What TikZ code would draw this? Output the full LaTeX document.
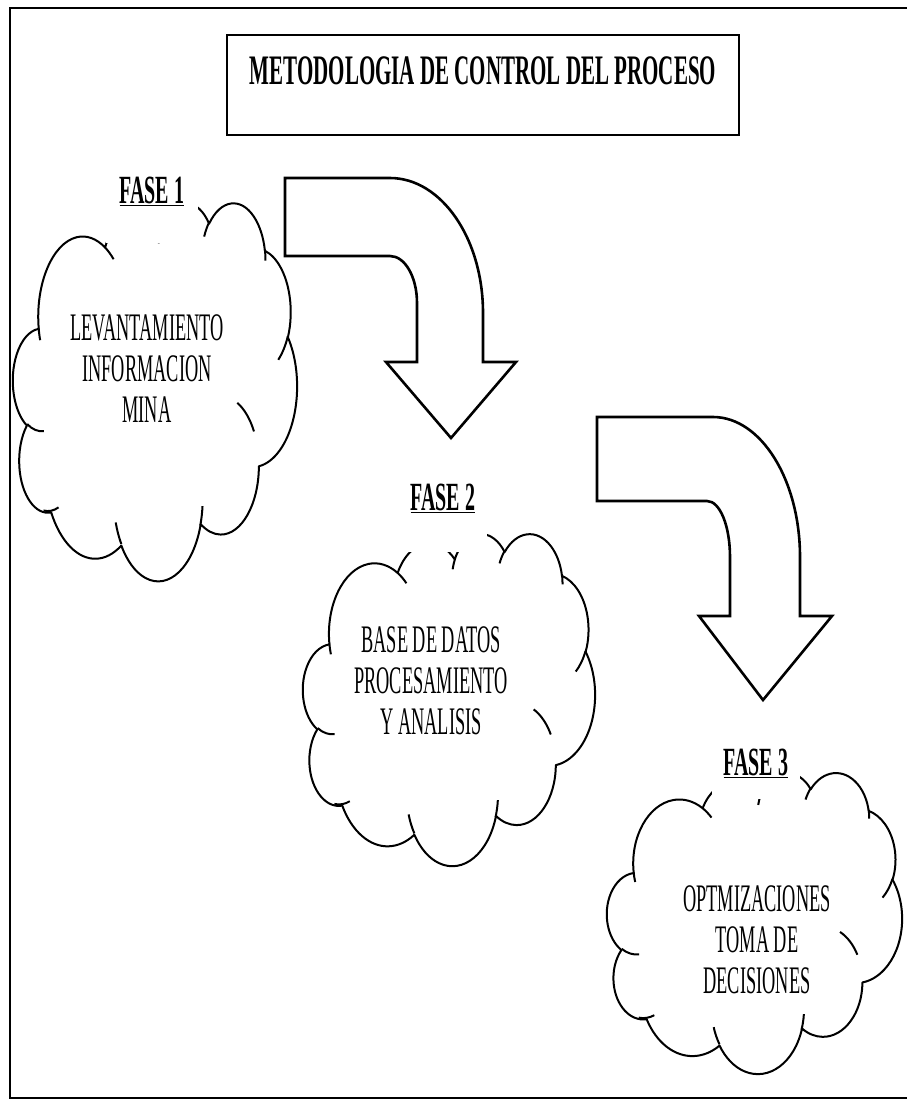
\documentclass[tikz,border=0pt]{standalone}
\usepackage{fontspec}
\usepackage{tikz}
\usetikzlibrary{positioning}
\newfontfamily\titlefont[FakeStretch=0.5]{Liberation Serif}
\newfontfamily\cloudfont[FakeStretch=0.47]{Liberation Serif}
% arco de elipse: radio x, radio y, angulo inicial, barrido (angulos visuales)
\newcommand\arco[4]{arc[x radius=#1, y radius=#2,
    start angle={atan2(#1*sin(#3),#2*cos(#3))},
    delta angle={mod(atan2(#1*sin(#3+#4),#2*cos(#3+#4))-atan2(#1*sin(#3),#2*cos(#3))+720,360)}]}
\tikzset{
    borde/.style={line width=2pt, line join=round},
    pics/nube/.style={code={
        \draw[borde] (3.9,14.37) \arco{6.753}{9.19}{-190.488}{123.781} \arco{5.333}{7.267}{-144.102}{89.945}
            \arco{4.365}{5.945}{-145.808}{99.723} \arco{4.857}{6.595}{-130.986}{117.242}
            \arco{5.333}{7.273}{-78.709}{109.027} \arco{6.775}{9.22}{-46.267}{130.269}
            \arco{5.785}{7.867}{0.625}{114.033} \arco{6.752}{9.215}{22.452}{115.173}
            \arco{7.72}{10.543}{66.243}{75.711} \arco{4.36}{5.918}{-274.942}{146.736}
            \arco{4.345}{5.945}{-246.829}{152.519} -- cycle;
        % arcos interiores
        \draw[borde] (4.693,26.177) \arco{4.345}{5.945}{86.742}{26.43}
            (6.928,34.899) \arco{4.36}{5.918}{73.604}{22.862}
            (16.478,39.09) \arco{6.752}{9.215}{137.624}{20.08}
            (28.827,34.751) \arco{6.752}{9.215}{6.453}{18.677}
            (34.129,22.954) \arco{5.785}{7.867}{-70.292}{33.348}
            (41.798,15.354) \arco{5.333}{7.273}{30.318}{27.752}
            (38.324,5.426) \arco{4.857}{6.595}{-13.744}{14.859}
            (29.078,3.952) \arco{4.857}{6.595}{-149.181}{18.193}
            (22.141,4.72) \arco{4.365}{5.945}{-163.494}{17.693}
            (14,5.192) \arco{6.753}{9.19}{-66.707}{12.319}
            (4.127,15.789) \arco{6.753}{9.19}{157.654}{11.858};
    }}
}

\begin{document}
\begin{tikzpicture}[x=1pt,y=-1pt,
    textonube/.style={align=center, inner sep=0pt, font={\cloudfont\fontsize{39}{41}\selectfont}},
    fase/.style={anchor=base, fill=white, inner ysep=0pt, font={\titlefont\bfseries\fontsize{40}{40}\selectfont}},
    flecha/.style={line width=2.6pt}]
    \useasboundingbox (0,0) rectangle (907,1104);
    \clip (0,0) rectangle (907,1104);
    \draw[line width=1.5pt] (10,8) rectangle (930,1098); % marco
    % titulo
    \node[draw, line width=1.8pt, minimum width=512pt, minimum height=100pt] (titulo) at (483,85) {};
    \node[inner sep=0pt, font={\titlefont\bfseries\fontsize{42}{42}\selectfont}, below=22pt of titulo.north] (textotitulo) {METODOLOGIA DE CONTROL DEL PROCESO};
    % nubes
    \begin{scope}[shift={(13,202)}, x=6.574pt, y=-8.75pt]
        \pic {nube};
    \end{scope}
    \begin{scope}[shift={(303,533)}, x=6.759pt, y=-7.685pt]
        \pic {nube};
    \end{scope}
    \begin{scope}[shift={(607,772)}, x=6.829pt, y=-6.968pt]
        \pic {nube};
    \end{scope}
    \node[textonube] (texto1) at (147,369) {LEVANTAMIENTO\\INFORMACION\\MINA};
    \node[textonube] (texto2) at (431,681) {BASE DE DATOS\\PROCESAMIENTO\\Y ANALISIS};
    \node[textonube] (texto3) at (757,940) {OPTMIZACIONES\\TOMA DE\\DECISIONES};
    % fases (cajas blancas sobre la nube)
    \node[fase, inner xsep=14pt, text depth=40pt] (fase1) at (152,203) {\underline{FASE 1}};
    \node[fase, inner xsep=12pt, text depth=42pt] (fase2) at (443,510) {\underline{FASE 2}};
    \node[fase, inner xsep=12pt, text depth=24pt] (fase3) at (756,775) {\underline{FASE 3}};
    % flechas curvas
    \draw[flecha] (285,178) -- (390,178) .. controls (441,178) and (483,238) .. (483,313) -- (483,362) -- (516,362) -- (451,438) -- (386,362) -- (417,362) -- (417,303) .. controls (417,277) and (405,256) .. (390,256) -- (285,256) -- cycle;
    \draw[flecha] (597,417) -- (713,417) .. controls (761,417) and (800,480) .. (800,557) -- (800,616) -- (832,616) -- (763,700) -- (699,616) -- (730,616) -- (730,557) .. controls (730,526) and (720,501) .. (707,501) -- (597,501) -- cycle;
\end{tikzpicture}
\end{document}
